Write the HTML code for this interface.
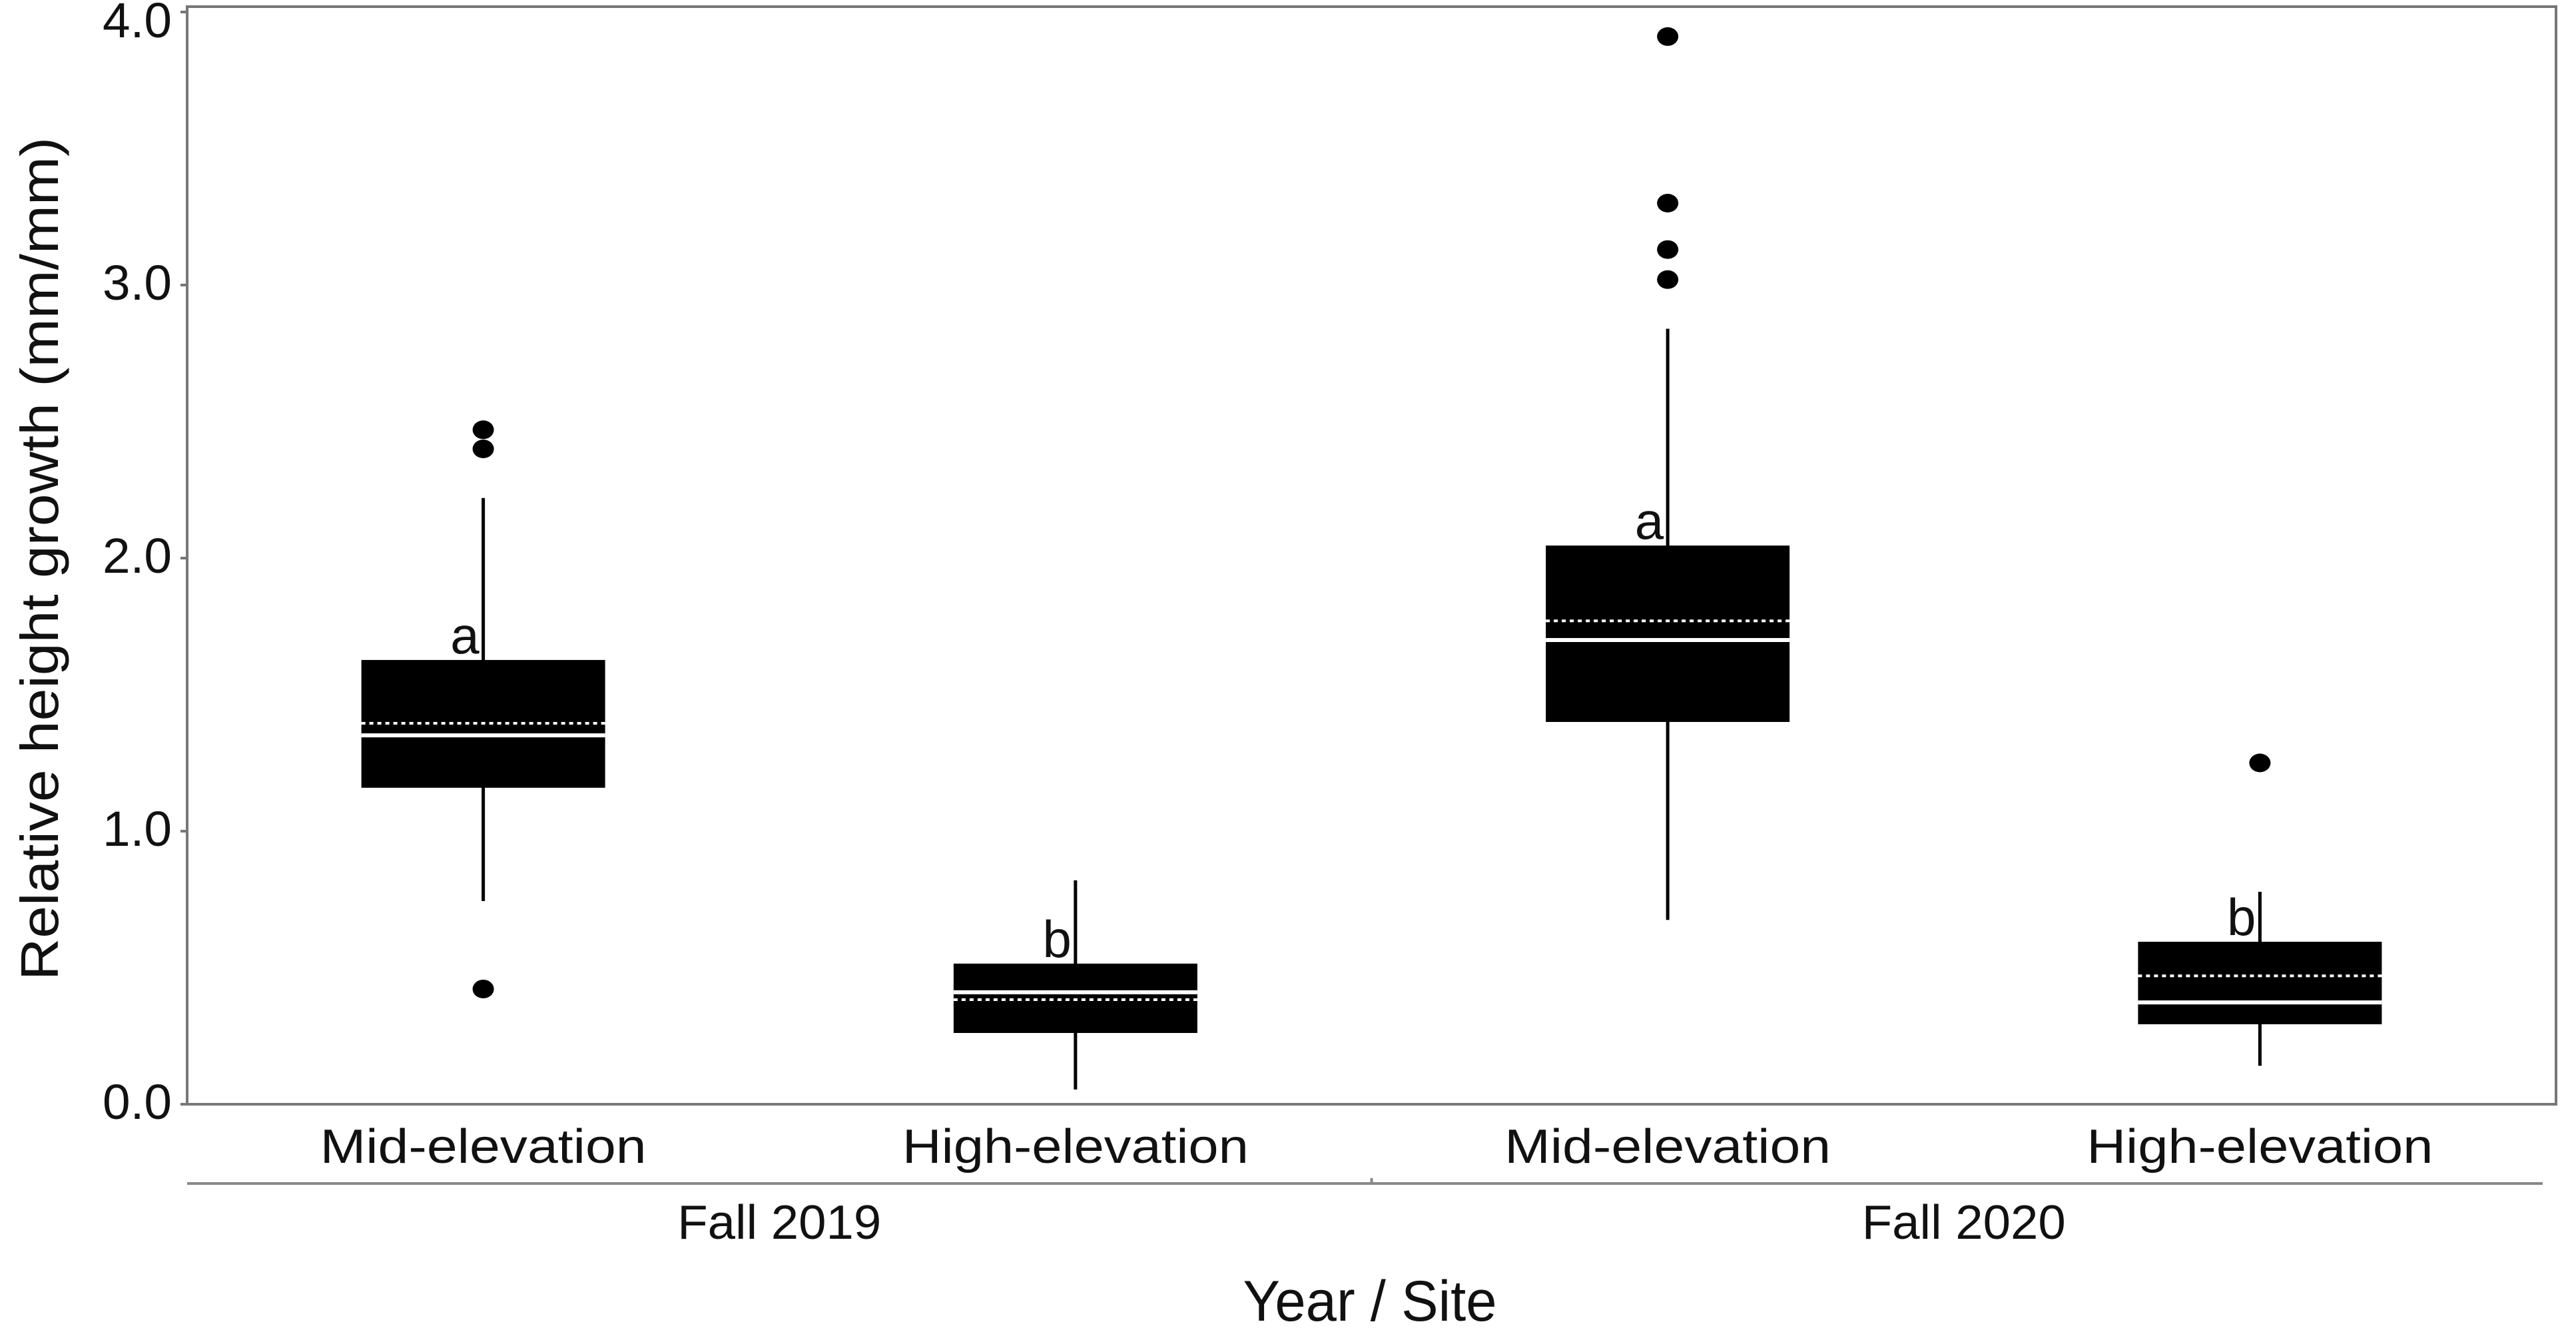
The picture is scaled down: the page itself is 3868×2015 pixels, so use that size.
<!DOCTYPE html>
<html><head><meta charset="utf-8"><style>
html,body{margin:0;padding:0;background:#fff;}
svg{display:block;font-family:"Liberation Sans",sans-serif;}
</style></head><body>
<svg id="chart" width="3868" height="2015" viewBox="0 0 3868 2015" xmlns="http://www.w3.org/2000/svg">
<rect x="0" y="0" width="3868" height="2015" fill="#fff"/>
<g id="plot"></g>
</svg>
<script>
const categories = ["Mid-elevation","High-elevation","Mid-elevation","High-elevation"];
const groups = ["Fall 2019","Fall 2020"];
const q1 = [1.159, 0.261, 1.40, 0.293];
const q3 = [1.627, 0.515, 2.046, 0.595];
const medians = [1.351, 0.41, 1.70, 0.373];
const means = [1.395, 0.383, 1.77, 0.47];
const whiskerLow = [0.744, 0.054, 0.675, 0.141];
const whiskerHigh = [2.22, 0.82, 2.84, 0.778];
const outliers = [[2.40, 2.47, 0.422], [], [3.91, 3.30, 3.13, 3.02], [1.25]];
const sigLetters = ["a","b","a","b"];
const yTicks = [0, 1, 2, 3, 4];
const yTickLabels = ["0.0","1.0","2.0","3.0","4.0"];

const NS = "http://www.w3.org/2000/svg";
const g = document.getElementById("plot");
const L = 281, R = 3838, T = 18, B = 1658, yMax = 4;
const step = (R - L) / categories.length;
const boxW = 366;
function xPos(i){ return L + step * (i + 0.5); }
function yPos(v){ return B - (v / yMax) * (B - T); }
function mk(tag, attrs, parent){
  const e = document.createElementNS(NS, tag);
  for (const k in attrs) e.setAttribute(k, attrs[k]);
  (parent || g).appendChild(e);
  return e;
}

const frame = mk("rect", {x:L, y:T-8, width:R-L, height:B-T+8, fill:"none", stroke:"#777", "stroke-width":4});



yTicks.forEach((v, i) => {
  const tk = mk("line", {x1:L-10, x2:L, y1:yPos(v), y2:yPos(v), stroke:"#777", "stroke-width":4});
  
  
  const t = mk("text", {x:258, y:Math.max(yPos(v)+22, 56), "text-anchor":"end", "font-size":74, fill:"#111", textLength:104, lengthAdjust:"spacingAndGlyphs"});
  t.textContent = yTickLabels[i];
  
  
});

categories.forEach((c, i) => {
  const cx = xPos(i);
  const bg = mk("g", {});
  
  
  const w = mk("line", {x1:cx, x2:cx, y1:yPos(whiskerLow[i]), y2:yPos(whiskerHigh[i]), stroke:"#000", "stroke-width":5}, bg);
  
  
  const r = mk("rect", {x:cx-boxW/2, y:yPos(q3[i]), width:boxW, height:yPos(q1[i])-yPos(q3[i]), fill:"#000"}, bg);
  
  
  const m = mk("line", {x1:cx-boxW/2, x2:cx+boxW/2, y1:yPos(medians[i]), y2:yPos(medians[i]), stroke:"#fff", "stroke-width":6}, bg);
  
  
  const mn = mk("line", {x1:cx-boxW/2, x2:cx+boxW/2, y1:yPos(means[i]), y2:yPos(means[i]), stroke:"#fff", "stroke-width":4, "stroke-dasharray":"6 6"}, bg);
  
  
  outliers[i].forEach(v => {
    const o = mk("ellipse", {cx:cx, cy:yPos(v), rx:16, ry:14, fill:"#000"}, bg);
    
    
  });
  const s = mk("text", {x:cx-6, y:yPos(q3[i])-10, "text-anchor":"end", "font-size":78, fill:"#111"}, bg);
  s.textContent = sigLetters[i];
  
  
  const cl = mk("text", {x:cx, y:1746, "text-anchor":"middle", "font-size":72, fill:"#111", textLength:(c[0]==="M"?490:520), lengthAdjust:"spacingAndGlyphs"});
  cl.textContent = c;
  
  
});

const gl = mk("path", {d:"M"+L+" 1777 H"+(R-20)+" M"+(L+2*step)+" 1777 v-8", stroke:"#888", "stroke-width":4, fill:"none"});


groups.forEach((gname, j) => {
  const t = mk("text", {x:L + step*(2*j+1), y:1860, "text-anchor":"middle", "font-size":72, fill:"#111", textLength:306, lengthAdjust:"spacingAndGlyphs"});
  t.textContent = gname;
  
  
});

const xt = mk("text", {x:2057, y:1983, "text-anchor":"middle", "font-size":86, fill:"#111", textLength:381, lengthAdjust:"spacingAndGlyphs"});
xt.textContent = "Year / Site";



const yt = mk("text", {x:0, y:0, "text-anchor":"middle", "font-size":80, fill:"#111", textLength:1266, lengthAdjust:"spacingAndGlyphs", transform:"translate(87 839) rotate(-90)"});
yt.textContent = "Relative height growth (mm/mm)";


</script>
</body></html>
